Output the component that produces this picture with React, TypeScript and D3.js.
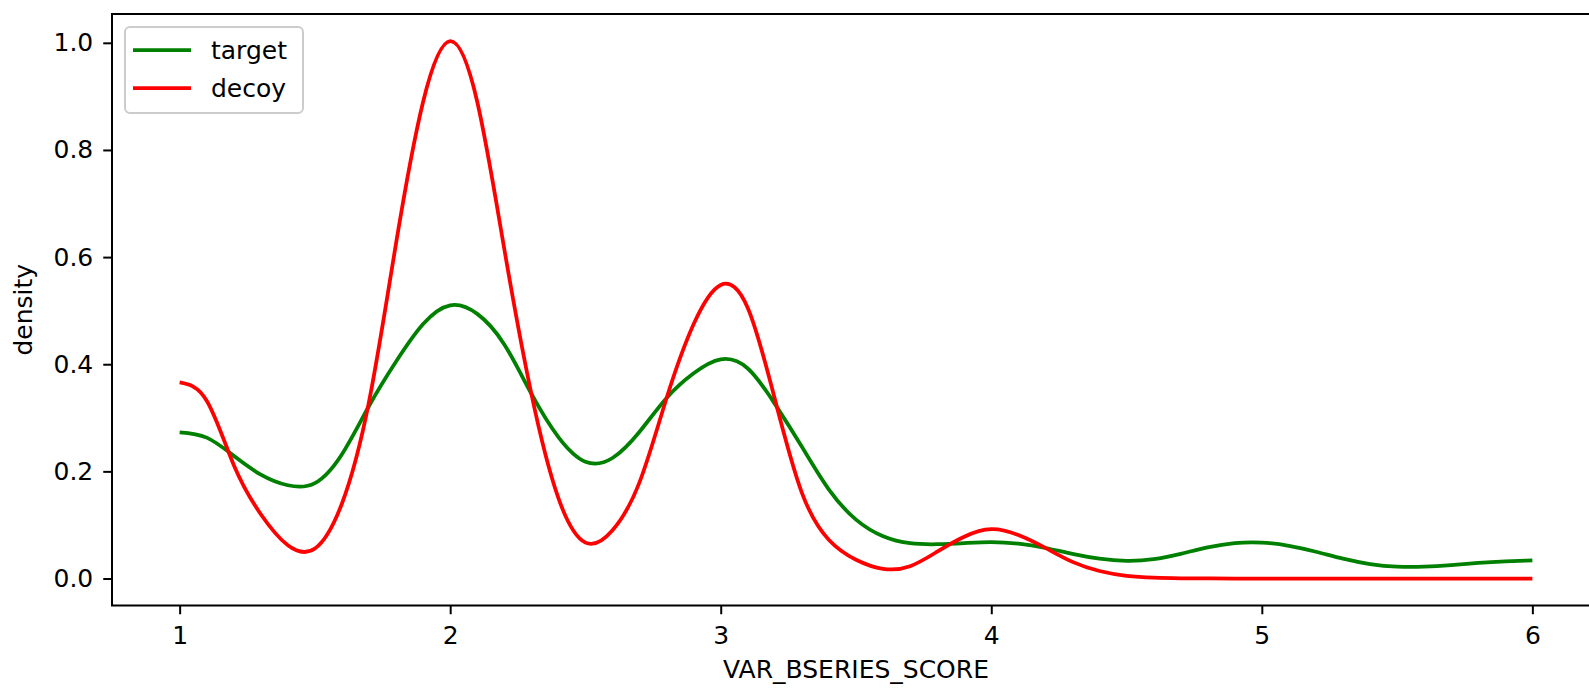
import React, { useEffect, useRef } from 'react';
import * as d3 from 'd3';

// score grid (0.1 steps) and the density
const scores = d3.range(0, 51).map(i => +(1 + i * 0.1).toFixed(1));

const targetDensity = [
  0.273, 0.263, 0.229, 0.194, 0.174, 0.178, 0.232, 0.322, 0.405, 0.475,
  0.51, 0.494, 0.437, 0.345, 0.264, 0.218, 0.225, 0.274, 0.337, 0.383,
  0.409, 0.392, 0.326, 0.246, 0.166, 0.11, 0.079, 0.066, 0.064, 0.066,
  0.068, 0.065, 0.057, 0.046, 0.037, 0.033, 0.036, 0.046, 0.058, 0.066,
  0.067, 0.061, 0.05, 0.037, 0.027, 0.022, 0.022, 0.025, 0.029, 0.032,
  0.034,
];

const decoyDensity = [
  0.366, 0.332, 0.212, 0.12, 0.062, 0.056, 0.14, 0.33, 0.626, 0.89,
  1.003, 0.89, 0.615, 0.345, 0.15, 0.067, 0.09, 0.18, 0.337, 0.475,
  0.548, 0.505, 0.335, 0.16, 0.072, 0.035, 0.018, 0.023, 0.05, 0.078,
  0.092, 0.081, 0.057, 0.031, 0.014, 0.005, 0.0015, 0.0004, 0.0001, 0,
  0, 0, 0, 0, 0, 0, 0, 0, 0, 0,
  0,
];

const seriesNames = ['target', 'decoy'];
const seriesColors = ['green', 'red'];
const xTicks = [1, 2, 3, 4, 5, 6];
const yTicks = [0, 0.2, 0.4, 0.6, 0.8, 1.0];

const App = () => {
  const ref = useRef<SVGSVGElement>(null);

  useEffect(() => {
    const svg = d3.select(ref.current);
    svg.selectAll('*').remove();
    const width = 1589;
    const height = 690;
    const left = 112, right = 1600, top = 14, bottom = 605.5;
    const font = 'DejaVu Sans, sans-serif';

    const x = d3.scaleLinear().domain([0.75, 6.25]).range([left, right]);
    const y = d3.scaleLinear().domain([-0.0504, 1.0538]).range([bottom, top]);

    svg.append('rect').attr('width', width).attr('height', height).attr('fill', 'white');

    svg.append('defs').append('clipPath').attr('id', 'plot')
      .append('rect').attr('x', left).attr('y', top)
      .attr('width', right - left).attr('height', bottom - top);

    // curves
    const line = d3.line<number>()
      .x((_, i) => x(scores[i]))
      .y(d => y(d))
      .curve(d3.curveNatural);

    const plot = svg.append('g').attr('clip-path', 'url(#plot)');
    [targetDensity, decoyDensity].forEach((vals, k) => {
      plot.append('path')
        .attr('d', line(vals))
        .attr('fill', 'none')
        .attr('stroke', seriesColors[k])
        .attr('stroke-width', 3.75)
        .attr('stroke-linejoin', 'round');
    });

    // axes
    const xAxis = svg.append('g')
      .attr('transform', `translate(0,${bottom})`)
      .call(d3.axisBottom(x).tickValues(xTicks).tickFormat(d3.format('d'))
        .tickSize(8.75).tickSizeOuter(0).tickPadding(12));
    const yAxis = svg.append('g')
      .attr('transform', `translate(${left},0)`)
      .call(d3.axisLeft(y).tickValues(yTicks).tickFormat(d3.format('.1f'))
        .tickSize(8.75).tickSizeOuter(0).tickPadding(10));
    [xAxis, yAxis].forEach(a => {
      a.select('.domain').remove();
      a.selectAll('line').attr('stroke', 'black').attr('stroke-width', 2);
      a.selectAll('text').attr('font-family', font).attr('font-size', 25).attr('fill', 'black');
    });

    // spines
    svg.append('rect')
      .attr('x', left).attr('y', top)
      .attr('width', right - left).attr('height', bottom - top)
      .attr('fill', 'none').attr('stroke', 'black').attr('stroke-width', 2);

    // labels
    svg.append('text')
      .attr('x', (left + right) / 2).attr('y', 678)
      .attr('text-anchor', 'middle')
      .attr('font-family', font).attr('font-size', 25)
      .text('VAR_BSERIES_SCORE');
    svg.append('text')
      .attr('transform', `translate(32,${(top + bottom) / 2}) rotate(-90)`)
      .attr('text-anchor', 'middle')
      .attr('font-family', font).attr('font-size', 25)
      .text('density');

    // legend
    const legend = svg.append('g');
    legend.append('rect')
      .attr('x', 125).attr('y', 27).attr('width', 178).attr('height', 86).attr('rx', 5)
      .attr('fill', 'white').attr('fill-opacity', 0.8)
      .attr('stroke', '#cccccc').attr('stroke-width', 2);
    seriesNames.forEach((name, i) => {
      const ly = 50 + i * 38;
      legend.append('line')
        .attr('x1', 133).attr('x2', 191).attr('y1', ly).attr('y2', ly)
        .attr('stroke', seriesColors[i]).attr('stroke-width', 3.75);
      legend.append('text')
        .attr('x', 211).attr('y', ly + 8.5)
        .attr('font-family', font).attr('font-size', 25)
        .text(name);
    });
  }, []);

  return (
    <svg ref={ref} width={1589} height={690}
      style={{ position: 'absolute', left: 0, top: 0 }} />
  );
};

export default App;
